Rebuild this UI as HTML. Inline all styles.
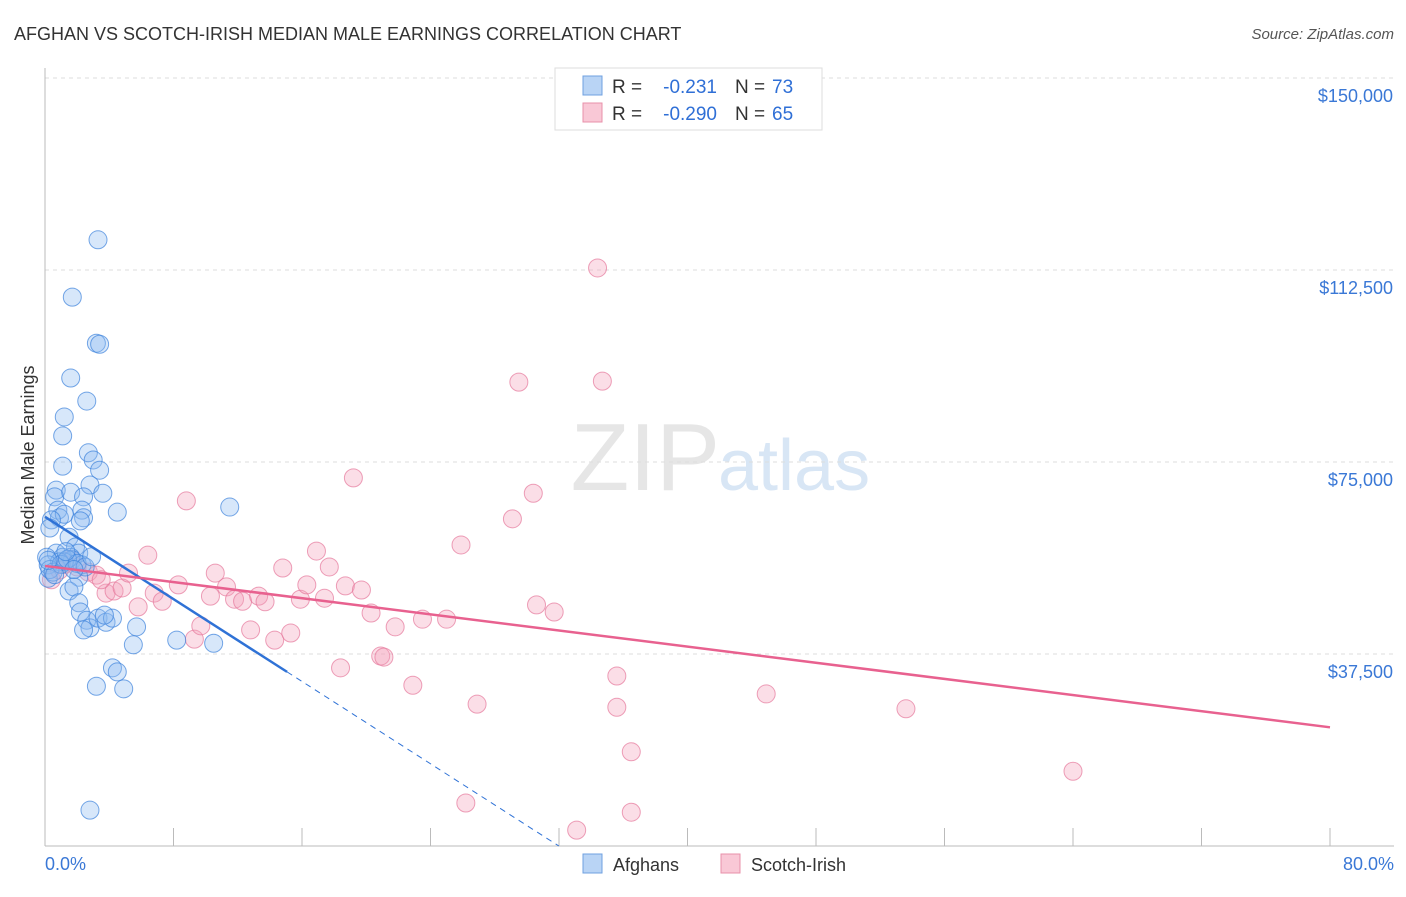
<!DOCTYPE html>
<html><head><meta charset="utf-8">
<style>
body{margin:0;background:#fff;font-family:"Liberation Sans",sans-serif;}
svg text{font-family:"Liberation Sans",sans-serif;}
</style></head>
<body>
<svg id="chart" width="1406" height="892">
<text x="14" y="40" font-size="18" fill="#333">AFGHAN VS SCOTCH-IRISH MEDIAN MALE EARNINGS CORRELATION CHART</text>
<text x="1394" y="39" font-size="15" fill="#555" text-anchor="end" font-style="italic">Source: ZipAtlas.com</text>
<text x="720" y="490" font-size="96" fill="#e6e6e6" text-anchor="end" font-family="Liberation Serif">ZIP</text>
<text x="718" y="490" font-size="72" fill="#d8e6f5">atlas</text>
<g id="grid"></g>
<g id="axes"></g>
<g id="pts"></g>
<g id="lines"></g>
<text transform="translate(34,455) rotate(-90)" font-size="18" fill="#333" text-anchor="middle">Median Male Earnings</text>
<g>
<rect x="555" y="68" width="267" height="62" fill="#fff" stroke="#ddd"/>
<rect x="583" y="76" width="19" height="19" fill="#b9d4f5" stroke="#6fa0e0"/>
<text x="612" y="93" font-size="19" fill="#333">R =</text>
<text x="717" y="93" font-size="19" fill="#2f6fd6" text-anchor="end">-0.231</text>
<text x="735" y="93" font-size="19" fill="#333">N =</text>
<text x="772" y="93" font-size="19" fill="#2f6fd6">73</text>
<rect x="583" y="103" width="19" height="19" fill="#f9c8d6" stroke="#e890aa"/>
<text x="612" y="120" font-size="19" fill="#333">R =</text>
<text x="717" y="120" font-size="19" fill="#2f6fd6" text-anchor="end">-0.290</text>
<text x="735" y="120" font-size="19" fill="#333">N =</text>
<text x="772" y="120" font-size="19" fill="#2f6fd6">65</text>
</g>
<g>
<rect x="583" y="854" width="19" height="19" fill="#b9d4f5" stroke="#6fa0e0"/>
<text x="613" y="871" font-size="18" fill="#333">Afghans</text>
<rect x="721" y="854" width="19" height="19" fill="#f9c8d6" stroke="#e890aa"/>
<text x="751" y="871" font-size="18" fill="#333">Scotch-Irish</text>
</g>
</svg>
<script>
const yTicks=[37500,75000,112500,150000];
const yTickLabels=["$37,500","$75,000","$112,500","$150,000"];
const xTickPct=[0,8,16,24,32,40,48,56,64,72,80];
const xEndLabels=["0.0%","80.0%"];
const afghanPct=[3.3,1.7,3.2,3.4,1.6,2.6,1.2,1.1,1.1,2.7,3.0,3.4,2.8,0.7,0.6,1.6,3.6,2.4,11.5,4.5,0.8,0.9,1.2,2.3,2.4,2.2,0.4,0.3,1.5,1.9,2.1,0.7,1.1,1.6,0.1,1.7,1.2,2.3,0.9,0.2,0.2,2.1,1.5,1.8,2.1,2.2,2.6,2.8,2.4,3.3,3.8,4.2,3.7,5.7,5.5,8.2,10.5,4.2,4.5,3.2,4.9,2.8,0.3,0.5,1.0,1.4,2.0,2.5,0.6,1.3,1.8,0.2,2.9];
const afghanVal=[118.4,107.2,98.2,98.0,91.4,86.9,83.8,80.1,74.2,76.8,75.4,73.4,70.5,69.5,68.2,69.1,68.9,68.2,66.2,65.2,65.6,64.1,64.8,65.6,64.1,63.5,63.7,62.1,60.3,58.4,57.2,57.2,56.4,56.4,56.4,55.9,55.5,54.9,55.5,54.9,52.3,52.5,49.8,50.6,47.5,45.7,44.1,42.6,42.2,44.5,43.7,44.5,45.1,42.8,39.3,40.2,39.6,34.8,34.0,31.2,30.7,7.0,54.0,53.5,55.0,56.0,55.2,54.5,53.0,57.5,54.0,55.8,56.5];
const scotchPct=[2.7,3.2,3.8,4.3,4.8,5.2,5.8,6.4,6.8,7.3,8.3,8.8,9.3,9.7,10.3,10.6,11.3,11.8,12.3,12.8,13.3,13.7,14.3,14.8,15.3,15.9,16.3,16.9,17.4,17.7,18.4,18.7,19.2,19.7,20.3,20.9,21.1,21.8,22.9,23.5,25.0,25.9,26.2,26.9,29.1,29.5,30.4,30.6,31.7,33.1,34.4,34.7,35.6,35.6,36.5,36.5,44.9,53.6,64.0,0.4,0.9,1.6,2.0,1.2,3.5];
const scotchVal=[53.5,52.9,49.4,49.8,50.4,53.3,46.7,56.8,49.4,47.8,51.0,67.4,40.4,43.0,48.8,53.3,50.6,48.2,47.8,42.2,48.8,47.7,40.2,54.3,41.6,48.2,51.0,57.6,48.4,54.5,34.8,50.8,71.9,50.0,45.5,37.1,36.9,42.8,31.4,44.3,44.3,58.8,8.4,27.7,63.9,90.6,68.9,47.1,45.7,3.1,112.9,90.8,33.2,27.1,18.4,6.6,29.7,26.8,14.6,52.0,53.9,55.9,54.5,55.0,52.0];
const afghanTrend=[64.3,-2.01];
const scotchTrend=[54.7,-0.394];
const NS='http://www.w3.org/2000/svg';
const X=p=>45+p*16.0625;
const Y=v=>846-v*(192/37500);
function mk(tag,attrs,parent){const e=document.createElementNS(NS,tag);for(const k in attrs)e.setAttribute(k,attrs[k]);parent.appendChild(e);return e;}
const grid=document.getElementById('grid'),axes=document.getElementById('axes'),pts=document.getElementById('pts'),lines=document.getElementById('lines');
yTicks.forEach((t,i)=>{
  const l=mk('line',{x1:45,x2:1394,y1:Y(t),y2:Y(t),stroke:'#ddd','stroke-dasharray':'4,4'},grid);
  
  
  const tx=mk('text',{x:1393,y:Y(t)+24,'font-size':18,fill:'#3a78d6','text-anchor':'end'},axes);
  tx.textContent=yTickLabels[i];
  
  
});
const ax=mk('line',{x1:45,x2:1394,y1:846,y2:846,stroke:'#bbb'},axes);


const ay=mk('line',{x1:45,x2:45,y1:68,y2:846,stroke:'#bbb'},axes);


xTickPct.forEach(p=>{
  const t=mk('line',{x1:X(p),x2:X(p),y1:828,y2:846,stroke:'#bbb'},axes);
  
  
});
[[0,'start'],[80,'end']].forEach((a,i)=>{
  const t=mk('text',{x:i?1394:45,y:870,'font-size':18,fill:'#3a78d6','text-anchor':a[1]},axes);
  t.textContent=xEndLabels[i];
  
  
});
scotchPct.forEach((p,i)=>{
  const c=mk('circle',{cx:X(p),cy:Y(scotchVal[i]*1000),r:9,fill:'rgba(244,160,185,0.35)',stroke:'rgba(230,120,155,0.7)','stroke-width':1},pts);
  
  
});
afghanPct.forEach((p,i)=>{
  const c=mk('circle',{cx:X(p),cy:Y(afghanVal[i]*1000),r:9,fill:'rgba(140,185,240,0.35)',stroke:'rgba(60,130,220,0.7)','stroke-width':1},pts);
  
  
});
const bEnd=15.07, bZero=-afghanTrend[0]/afghanTrend[1];
const bl=mk('line',{x1:X(0),y1:Y(afghanTrend[0]*1000),x2:X(bEnd),y2:Y((afghanTrend[0]+afghanTrend[1]*bEnd)*1000),stroke:'#2f72d6','stroke-width':2.5},lines);


const bd=mk('line',{x1:X(bEnd),y1:Y((afghanTrend[0]+afghanTrend[1]*bEnd)*1000),x2:X(bZero),y2:Y(0),stroke:'#2f72d6','stroke-width':1,'stroke-dasharray':'6,5'},lines);


const sl=mk('line',{x1:X(0),y1:Y(scotchTrend[0]*1000),x2:X(80),y2:Y((scotchTrend[0]+scotchTrend[1]*80)*1000),stroke:'#e8618f','stroke-width':2.5},lines);


</script>
</body></html>
